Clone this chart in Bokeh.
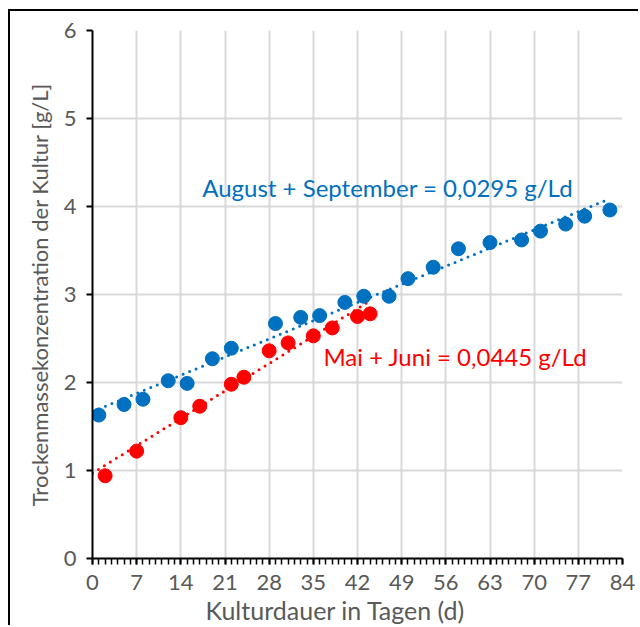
from bokeh.plotting import figure
from bokeh.models import FixedTicker, Label, Title
from bokeh.embed import file_html
from bokeh.resources import INLINE

# Culture duration (days) and dry-mass concentration (g/L)
aug_sep_days = [1, 5, 8, 12, 15, 19, 22, 29, 33, 36, 40, 43, 47, 50, 54, 58, 63, 68, 71, 75, 78, 82]
aug_sep_conc = [1.63, 1.75, 1.81, 2.02, 1.99, 2.27, 2.39, 2.67, 2.74, 2.76, 2.91, 2.98,
                2.98, 3.18, 3.31, 3.52, 3.59, 3.62, 3.72, 3.80, 3.89, 3.96]

mai_jun_days = [2, 7, 14, 17, 22, 24, 28, 31, 35, 38, 42, 44]
mai_jun_conc = [0.94, 1.22, 1.60, 1.73, 1.98, 2.06, 2.36, 2.45, 2.53, 2.62, 2.75, 2.78]

# Linear growth rates (g/L per day) and trend intercepts
aug_sep_rate = 0.0295
aug_sep_intercept = 1.67
mai_jun_rate = 0.0445
mai_jun_intercept = 0.97

x_ticks = list(range(0, 85, 7))
y_ticks = list(range(0, 7))

x_title = "Kulturdauer in Tagen (d)"
y_title = "Trockenmassekonzentration der Kultur [g/L]"

BLUE = "#0070C0"
RED = "#FF0000"
GREY = "#595959"
FONT = "Lato"

p = figure(width=630, height=616, x_range=(0, 84), y_range=(0, 6),
           output_backend="svg", toolbar_location=None,
           min_border_left=82, min_border_top=19, min_border_right=18, min_border_bottom=69)
p.margin = (9, 0, 0, 8)
p.styles = {"border-left": "2px solid black", "border-top": "2px solid black"}
p.outline_line_color = None
p.background_fill_color = "white"
p.border_fill_color = "white"

# Axes
p.xaxis.ticker = FixedTicker(ticks=x_ticks, minor_ticks=list(range(0, 85)))
p.yaxis.ticker = FixedTicker(ticks=y_ticks)
for ax in (p.xaxis[0], p.yaxis[0]):
    ax.axis_line_color = "black"
    ax.axis_line_width = 2
    ax.major_tick_line_color = "black"
    ax.major_tick_line_width = 2
    ax.major_tick_out = 6
    ax.major_tick_in = 0
    ax.major_label_text_color = GREY
    ax.major_label_text_font = FONT
    ax.major_label_text_font_size = "22px"
    ax.axis_label_text_color = GREY
    ax.axis_label_text_font = FONT
    ax.axis_label_text_font_style = "normal"
p.yaxis.axis_label_text_font_size = "22px"
p.xaxis.minor_tick_line_color = "black"
p.xaxis.minor_tick_line_width = 1.5
p.xaxis.minor_tick_out = 6
p.xaxis.minor_tick_in = 0
p.yaxis.minor_tick_line_color = None
p.xaxis.major_label_standoff = 10
p.yaxis.major_label_standoff = 10
p.yaxis.axis_label = y_title
p.yaxis.axis_label_standoff = 8

# x-axis title, placed a little left of the plot centre
p.add_layout(Title(text=x_title, align="left", offset=113, standoff=0,
                   text_color=GREY, text_font=FONT, text_font_size="25px",
                   text_font_style="normal"), "below")

p.grid.grid_line_color = "#D9D9D9"
p.grid.grid_line_width = 2

# Linear trend lines (dotted)
aug_x = [0, max(aug_sep_days)]
aug_y = [aug_sep_intercept + aug_sep_rate * x for x in aug_x]
mai_x = [0, max(mai_jun_days)]
mai_y = [mai_jun_intercept + mai_jun_rate * x for x in mai_x]
p.line(aug_x, aug_y, line_color=BLUE, line_width=3, line_dash="0 7", line_cap="round")
p.line(mai_x, mai_y, line_color=RED, line_width=3, line_dash="0 7", line_cap="round")

# Measurements
p.scatter(aug_sep_days, aug_sep_conc, size=14, fill_color=BLUE, line_color=BLUE)
p.scatter(mai_jun_days, mai_jun_conc, size=14, fill_color=RED, line_color=RED)

p.add_layout(Label(x=17.4, y=4.22, text=f"August + September = {aug_sep_rate:.4f} g/Ld".replace(".", ","),
                   text_color=BLUE, text_font=FONT, text_font_size="24px",
                   text_baseline="middle"))
p.add_layout(Label(x=36.6, y=2.29, text=f"Mai + Juni = {mai_jun_rate:.4f} g/Ld".replace(".", ","),
                   text_color=RED, text_font=FONT, text_font_size="24px",
                   text_baseline="middle"))

open("out.html", "w").write(file_html(p, INLINE))
